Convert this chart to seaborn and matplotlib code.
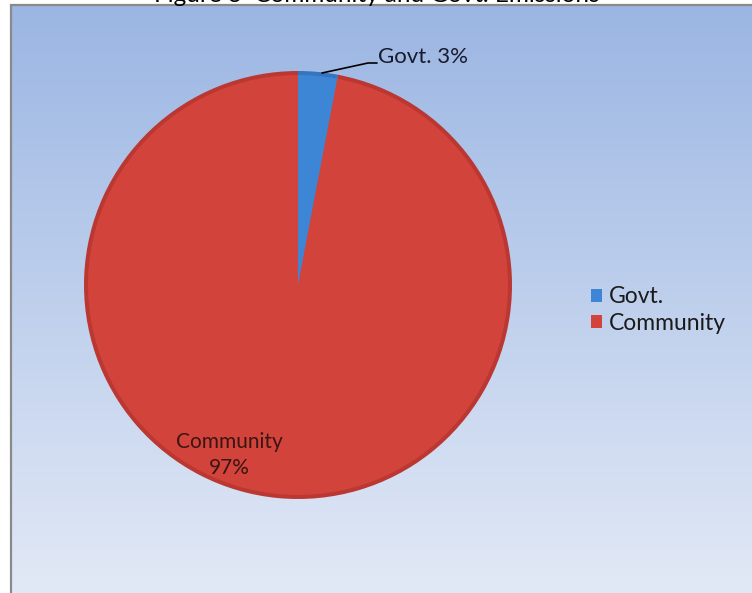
import numpy as np
import matplotlib
matplotlib.use("Agg")
import matplotlib.pyplot as plt
import seaborn as sns
from matplotlib.patches import Rectangle

# ---- data ----
categories = ["Govt.", "Community"]
values = [3, 97]
pct_labels = ["Govt. 3%", "Community\n97%"]
title = "Figure 3  Community and Govt. Emissions"

sns.set_theme(style="white")
plt.rcParams['font.family'] = ['Lato', 'DejaVu Sans']

W, H = 752, 593
fig = plt.figure(figsize=(W / 100, H / 100), dpi=100)
fig.patch.set_facecolor("white")
ax = fig.add_axes([0, 0, 1, 1])

# background gradient (plot area)
top = np.array([155, 182, 227]) / 255
bot = np.array([226, 233, 246]) / 255
t = np.linspace(0, 1, 256)[:, None]
grad = (top[None, :] * (1 - t) + bot[None, :] * t)[:, None, :]
ax.imshow(grad, extent=(10, W + 2, -2, H - 4), aspect='auto', zorder=0,
          interpolation='bilinear')
ax.add_patch(Rectangle((10.5, -5), W, H - 4 + 5 - 0.5, fill=False,
                       edgecolor='#8a8a8a', lw=1.6, zorder=1))

# pie with bevel effect
cx, cy, r = 298, H - 285, 214
dark = sns.color_palette(["#3574bf", "#bb3731"])
main = sns.color_palette(["#3d86d6", "#d2433c"])
ax.pie(values, colors=dark, startangle=90, counterclock=False,
       center=(cx, cy), radius=r, wedgeprops=dict(linewidth=0, zorder=2))
ax.pie(values, colors=main, startangle=90, counterclock=False,
       center=(cx, cy), radius=r - 4, wedgeprops=dict(linewidth=0, zorder=3))
wedges = ax.patches[-2:]

# labels
ax.plot([322, 368, 377], [H - 73, H - 63, H - 63], color='black', lw=1.2, zorder=5)
ax.text(378, H - 57, pct_labels[0], fontsize=16, color='#1a1a2e',
        va='center', ha='left', zorder=6)
ax.text(229, H - 455, pct_labels[1], fontsize=15, color='#3a1512',
        va='center', ha='center', linespacing=1.4, zorder=6)

# legend
leg = ax.legend(wedges, categories, loc='center left',
                bbox_to_anchor=(570 / W, 1 - 310 / H), frameon=False,
                fontsize=16.5, handlelength=0.5, handleheight=0.5,
                handletextpad=0.3, labelspacing=0.22, labelcolor='#1a1a1a')

# title (cut at top)
ax.text(377, H - 1.5, title, fontsize=17.5, ha='center', va='baseline',
        color='black', zorder=6)

ax.set_xlim(0, W)
ax.set_ylim(0, H)
ax.set_aspect('auto')
ax.axis('off')
fig.savefig("out.png", dpi=100)
